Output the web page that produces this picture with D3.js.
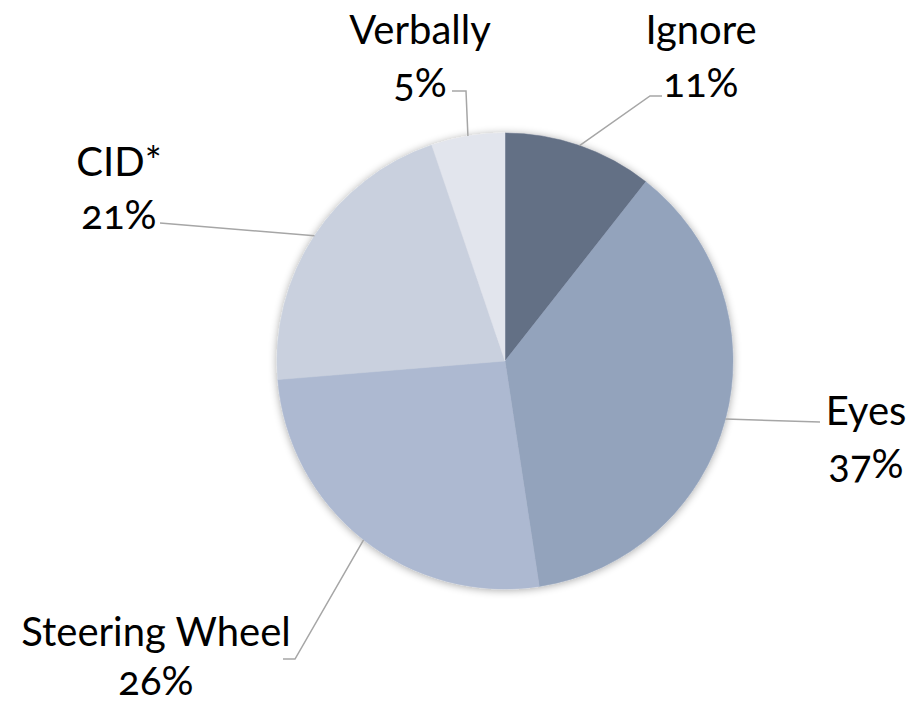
<!DOCTYPE html>
<html><head><meta charset="utf-8">
<script src="https://cdn.jsdelivr.net/npm/d3@7"></script>
<style>
html,body{margin:0;padding:0;background:#fff;}
text{font-family:Lato,"Open Sans",sans-serif;font-size:40px;fill:#000;font-feature-settings:"onum" 1;}
</style></head>
<body>
<svg id="c" width="922" height="704"></svg>
<script>
const categories = ["Ignore","Eyes","Steering Wheel","CID*","Verbally"];
const values = [10.6, 37.0, 26.1, 21.1, 5.2];
const colors = ["#636f85","#93a3bc","#adb9d1","#c9d0de","#e2e5ed"];

// layout: label anchor (text center x, name baseline y, line gap) and leader end points
const layout = {
  "Ignore":        {tx:701, ty:44, gap:53, pts:[[650,96],[662,96]]},
  "Eyes":          {tx:866, ty:425, gap:53, pts:[[820,422]]},
  "Steering Wheel":{tx:156, ty:646, gap:49, pts:[[295,659],[283,659]]},
  "CID*":          {tx:119, ty:176, gap:53, pts:[[160,223]]},
  "Verbally":      {tx:420, ty:44, gap:53, pts:[[466,91],[452,91]]}
};

const svg = d3.select("#c");
const cx = 505, cy = 361, r = 228;
const defs = svg.append("defs");
const f = defs.append("filter").attr("id","sh").attr("x","-20%").attr("y","-20%").attr("width","140%").attr("height","140%");
f.append("feGaussianBlur").attr("in","SourceAlpha").attr("stdDeviation",4).attr("result","b");
f.append("feOffset").attr("in","b").attr("dx",0).attr("dy",1).attr("result","o");
f.append("feComponentTransfer").attr("in","o").attr("result","o2").append("feFuncA").attr("type","linear").attr("slope",0.35);
const m = f.append("feMerge"); m.append("feMergeNode").attr("in","o2"); m.append("feMergeNode").attr("in","SourceGraphic");

const data = categories.map((c,i)=>({name:c, value:values[i], color:colors[i]}));
const pie = d3.pie().value(d=>d.value).sort(null);
const arcs = pie(data);
const arc = d3.arc().innerRadius(0).outerRadius(r);
const g = svg.append("g").attr("transform",`translate(${cx},${cy})`);
const pg = g.append("g").attr("filter","url(#sh)");
pg.selectAll("path").data(arcs).join("path")
  .attr("d",arc).attr("fill",d=>d.data.color).attr("stroke",d=>d.data.color).attr("stroke-width",0.5);

const total = d3.sum(values);
arcs.forEach(a=>{
  const L = layout[a.data.name];
  const mid = (a.startAngle+a.endAngle)/2;
  const sx = cx + r*Math.sin(mid), sy = cy - r*Math.cos(mid);
  const pts = [[sx,sy], ...L.pts];
  svg.append("path").attr("d", d3.line()(pts)).attr("fill","none").attr("stroke","#a6a6a6").attr("stroke-width",1.5);
  const t = svg.append("text").attr("text-anchor","middle").attr("x",L.tx).attr("y",L.ty);
  t.append("tspan").attr("x",L.tx).attr("y",L.ty).text(a.data.name);
  t.append("tspan").attr("x",L.tx).attr("y",L.ty+L.gap).text(Math.round(a.data.value/total*100)+"%");
});
</script>
</body></html>
